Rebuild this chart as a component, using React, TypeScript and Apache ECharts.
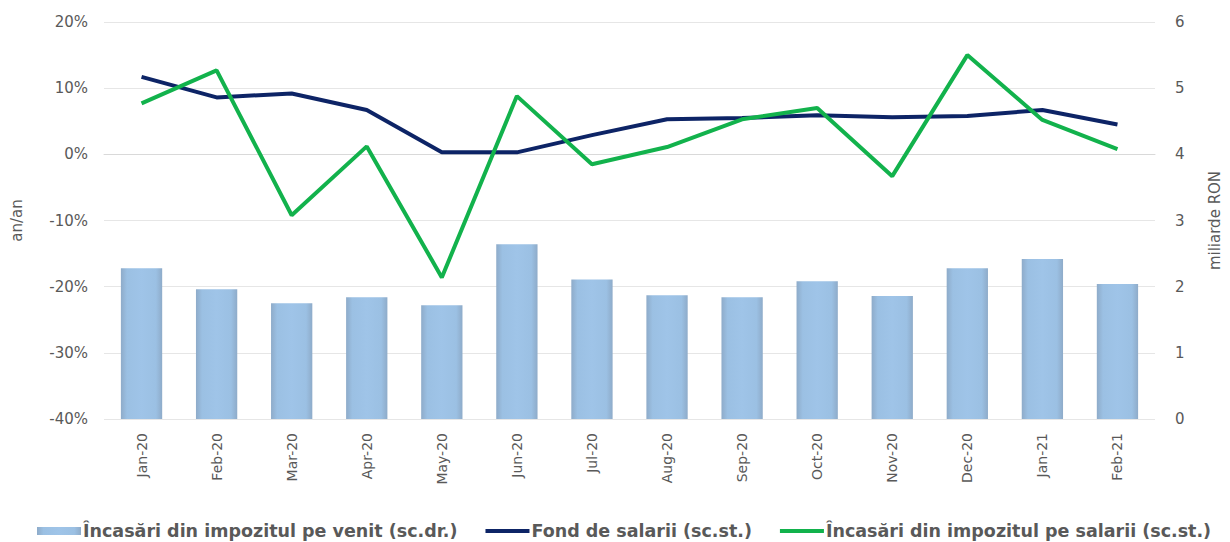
import React, { useEffect, useRef } from "react";
import * as echarts from "echarts";

const categories = ["Jan-20", "Feb-20", "Mar-20", "Apr-20", "May-20", "Jun-20", "Jul-20", "Aug-20", "Sep-20", "Oct-20", "Nov-20", "Dec-20", "Jan-21", "Feb-21"];
const venit = [2.28, 1.96, 1.75, 1.84, 1.72, 2.64, 2.11, 1.87, 1.84, 2.08, 1.86, 2.28, 2.42, 2.04];
const fondSalarii = [11.7, 8.6, 9.2, 6.7, 0.3, 0.3, 2.9, 5.3, 5.5, 5.9, 5.6, 5.8, 6.7, 4.5];
const impozitSalarii = [7.7, 12.7, -9.2, 1.2, -18.6, 8.8, -1.5, 1.1, 5.3, 7.0, -3.3, 15.0, 5.2, 0.8];

const nameVenit = "Încasări din impozitul pe venit (sc.dr.)";
const nameFond = "Fond de salarii (sc.st.)";
const nameImpozit = "Încasări din impozitul pe salarii (sc.st.)";

const tickFont = { color: "#595959", fontFamily: "DejaVu Sans", fontSize: 15 };

const barGradient = new echarts.graphic.LinearGradient(0, 0, 1, 0, [
  { offset: 0, color: "#8eabc9" },
  { offset: 0.15, color: "#9bc0e3" },
  { offset: 0.5, color: "#9fc4e8" },
  { offset: 0.85, color: "#9bc0e3" },
  { offset: 1, color: "#8eabc9" },
]);

const lineIcon = "path://M0,0L46,0L46,4L0,4Z";

export default function App() {
  const ref = useRef<HTMLDivElement>(null);
  useEffect(() => {
    if (!ref.current) return;
    const chart = echarts.init(ref.current, null, { renderer: "svg" });
    chart.setOption({
      animation: false,
      backgroundColor: "#ffffff",
      grid: { left: 104, right: 67, top: 22, bottom: 123 },
      legend: {
        left: 32,
        top: 517,
        width: 1196,
        itemGap: 28,
        itemWidth: 44,
        itemHeight: 8,
        symbolKeepAspect: true,
        textStyle: { color: "#595959", fontFamily: "DejaVu Sans", fontWeight: "bold", fontSize: 17.5, padding: [0, 0, 0, -3] },
        data: [
          { name: nameVenit, icon: "rect" },
          { name: nameFond, icon: lineIcon },
          { name: nameImpozit, icon: lineIcon },
        ],
      },
      xAxis: {
        type: "category",
        data: categories,
        axisTick: { show: false },
        axisLine: { show: true, lineStyle: { color: "#d9d9d9", width: 1 } },
        axisLabel: { ...tickFont, fontSize: 14, rotate: 90, margin: 14, interval: 0 },
      },
      yAxis: [
        {
          type: "value",
          min: -40,
          max: 20,
          interval: 10,
          name: "an/an",
          nameLocation: "middle",
          nameGap: 80,
          nameTextStyle: { ...tickFont },
          axisLabel: { ...tickFont, formatter: "{value}%", margin: 16 },
          axisLine: { show: false },
          axisTick: { show: false },
          splitLine: { lineStyle: { color: "#e6e6e6", width: 1 } },
        },
        {
          type: "value",
          min: 0,
          max: 6,
          interval: 1,
          name: "miliarde RON",
          nameLocation: "middle",
          nameGap: 52,
          nameRotate: 90,
          nameTextStyle: { ...tickFont },
          axisLabel: { ...tickFont, margin: 20 },
          axisLine: { show: false },
          axisTick: { show: false },
          splitLine: { show: false },
        },
      ],
      series: [
        {
          name: nameVenit,
          type: "bar",
          yAxisIndex: 1,
          data: venit,
          barWidth: "55%",
          itemStyle: { color: barGradient },
        },
        {
          name: nameFond,
          type: "line",
          yAxisIndex: 0,
          data: fondSalarii,
          symbol: "none",
          lineStyle: { color: "#0d2466", width: 4 },
          itemStyle: { color: "#0d2466" },
        },
        {
          name: nameImpozit,
          type: "line",
          yAxisIndex: 0,
          data: impozitSalarii,
          symbol: "none",
          lineStyle: { color: "#12b24c", width: 4 },
          itemStyle: { color: "#12b24c" },
        },
      ],
    });
    return () => chart.dispose();
  }, []);
  return <div ref={ref} style={{ width: 1230, height: 542, position: "absolute", left: 0, top: 0 }} />;
}
